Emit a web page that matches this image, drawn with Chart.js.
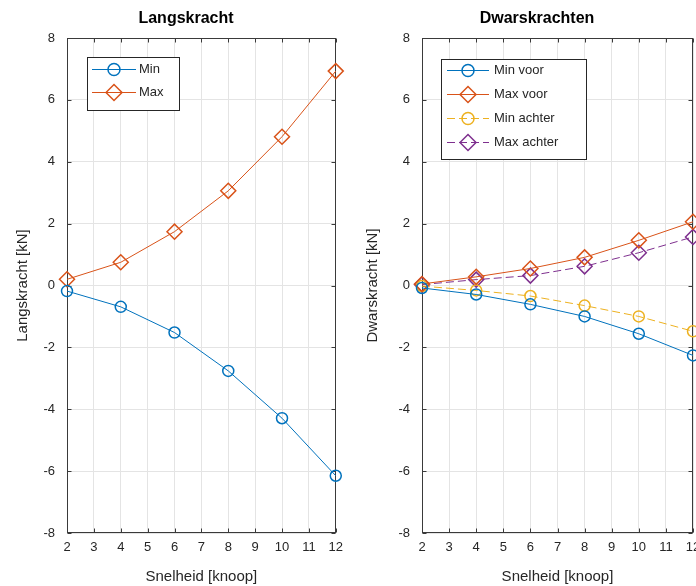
<!DOCTYPE html>
<html>
<head>
<meta charset="utf-8">
<script src="https://cdn.jsdelivr.net/npm/chart.js@4.4.1/dist/chart.umd.min.js"></script>
<style>
  html, body { margin: 0; padding: 0; background: #fff; overflow: hidden; width: 696px; height: 586px; position: relative; }
  canvas { position: absolute; top: 0; }
  #links { left: 0; }
  #rechts { left: 350px; }
</style>
</head>
<body>
<canvas id="links" width="350" height="586"></canvas>
<canvas id="rechts" width="360" height="586"></canvas>
<script>
// snelheden (knoop)
const snelheid = [2, 4, 6, 8, 10, 12];

// langskracht [kN]
const langMin = [-0.18, -0.69, -1.52, -2.76, -4.29, -6.15];
const langMax = [0.20, 0.75, 1.74, 3.06, 4.81, 6.93];

// dwarskrachten [kN]
const dwarsMinVoor = [-0.08, -0.29, -0.61, -1.00, -1.56, -2.26];
const dwarsMaxVoor = [0.05, 0.28, 0.55, 0.91, 1.46, 2.06];
const dwarsMinAchter = [-0.02, -0.16, -0.34, -0.65, -1.00, -1.48];
const dwarsMaxAchter = [0.03, 0.19, 0.32, 0.62, 1.06, 1.57];

const xTicks = [2, 3, 4, 5, 6, 7, 8, 9, 10, 11, 12];
const yTicks = [-8, -6, -4, -2, 0, 2, 4, 6, 8];

const blauw = '#0072BD';
const oranje = '#D95319';
const geel = '#EDB120';
const paars = '#7E2F8E';
const tekst = '#262626';

Chart.defaults.font.family = "'Liberation Sans', Arial, sans-serif";
Chart.defaults.color = tekst;

function punten(ys) {
  return snelheid.map((x, i) => ({ x: x, y: ys[i] }));
}

function reeks(label, ys, kleur, vorm, dash) {
  const r = vorm === 'circle' ? 5.5 : 7.5;
  return {
    label: label,
    data: punten(ys),
    borderColor: kleur,
    backgroundColor: 'rgba(0,0,0,0)',
    borderWidth: 1,
    borderDash: dash || [],
    pointStyle: vorm,
    pointRadius: r,
    pointHoverRadius: r,
    pointBorderWidth: 1.5,
    pointBorderColor: kleur,
    pointBackgroundColor: 'rgba(0,0,0,0)',
    tension: 0,
    clip: false
  };
}

// titel op vaste plek, zoals matlab
const titelPlugin = {
  id: 'titel',
  afterDraw(chart, args, opts) {
    const ctx = chart.ctx;
    ctx.save();
    ctx.font = "bold 16px 'Liberation Sans', Arial, sans-serif";
    ctx.fillStyle = '#000';
    ctx.textAlign = 'center';
    ctx.textBaseline = 'middle';
    ctx.fillText(opts.text, opts.x, opts.y);
    ctx.restore();
  }
};

// kader om de assen met ticks naar binnen
const kaderPlugin = {
  id: 'kader',
  beforeDatasetsDraw(chart) {
    const { ctx, chartArea: a, scales } = chart;
    const l = Math.round(a.left) + 0.5, r = Math.round(a.right) - 0.5;
    const t = Math.round(a.top) + 0.5, b = Math.round(a.bottom) - 0.5;
    ctx.save();
    ctx.strokeStyle = '#3a3a3a';
    ctx.lineWidth = 1;
    ctx.strokeRect(l, t, r - l, b - t);
    ctx.beginPath();
    xTicks.forEach(v => {
      const px = Math.round(scales.x.getPixelForValue(v)) + 0.5;
      ctx.moveTo(px, b); ctx.lineTo(px, b - 4);
      ctx.moveTo(px, t); ctx.lineTo(px, t + 4);
    });
    yTicks.forEach(v => {
      const py = Math.round(scales.y.getPixelForValue(v)) + 0.5;
      ctx.moveTo(l, py); ctx.lineTo(l + 4, py);
      ctx.moveTo(r, py); ctx.lineTo(r - 4, py);
    });
    ctx.stroke();
    ctx.restore();
  }
};

// legenda binnen de assen
const legendaPlugin = {
  id: 'legenda',
  afterDraw(chart, args, o) {
    const ctx = chart.ctx;
    const sets = chart.data.datasets;
    ctx.save();
    ctx.fillStyle = '#fff';
    ctx.fillRect(o.x, o.y, o.w, o.h);
    ctx.strokeStyle = '#262626';
    ctx.lineWidth = 1;
    ctx.strokeRect(o.x + 0.5, o.y + 0.5, o.w, o.h);
    sets.forEach((ds, i) => {
      const y = o.y + o.first + i * o.row;
      ctx.strokeStyle = ds.borderColor;
      ctx.lineWidth = 1;
      ctx.setLineDash(ds.borderDash);
      ctx.beginPath();
      ctx.moveTo(o.x + o.lineStart, y + 0.5);
      ctx.lineTo(o.x + o.lineStart + o.lineLen, y + 0.5);
      ctx.stroke();
      ctx.setLineDash([]);
      ctx.fillStyle = 'rgba(0,0,0,0)';
      ctx.lineWidth = ds.pointBorderWidth;
      Chart.helpers.drawPoint(ctx, {
        pointStyle: ds.pointStyle,
        radius: ds.pointStyle === 'circle' ? 6 : 8,
        borderWidth: ds.pointBorderWidth,
        rotation: 0
      }, o.x + o.lineStart + o.lineLen / 2, y + 0.5);
      ctx.fillStyle = tekst;
      ctx.font = "13px 'Liberation Sans', Arial, sans-serif";
      ctx.textAlign = 'left';
      ctx.textBaseline = 'middle';
      ctx.fillText(ds.label, o.x + o.textStart, y);
    });
    ctx.restore();
  }
};

function opties(yTitel, titel, yBreedte, rechtsPad, yTitelPad, legenda) {
  return {
    responsive: false,
    animation: false,
    events: [],
    layout: { padding: { left: 0, right: rechtsPad, top: 38, bottom: 0 } },
    plugins: {
      legend: { display: false },
      tooltip: { enabled: false },
      titel: titel,
      legenda: legenda
    },
    scales: {
      x: {
        type: 'linear',
        min: 2,
        max: 12,
        afterBuildTicks: s => { s.ticks = xTicks.map(v => ({ value: v })); },
        afterFit: s => { s.height = 53; },
        ticks: { font: { size: 13 }, padding: 7, color: tekst, maxRotation: 0 },
        grid: { color: '#e4e4e4', drawTicks: false },
        border: { display: false },
        title: { display: true, text: 'Snelheid [knoop]', font: { size: 15 }, color: tekst, padding: { top: 0, bottom: 0 } }
      },
      y: {
        type: 'linear',
        min: -8,
        max: 8,
        afterBuildTicks: s => { s.ticks = yTicks.map(v => ({ value: v })); },
        afterFit: s => { s.width = yBreedte; },
        ticks: { font: { size: 13 }, padding: 12, color: tekst },
        grid: { color: '#e4e4e4', drawTicks: false },
        border: { display: false },
        title: { display: true, text: yTitel, font: { size: 15 }, color: tekst, padding: { top: yTitelPad, bottom: 0 } }
      }
    }
  };
}

new Chart(document.getElementById('links'), {
  type: 'line',
  data: {
    datasets: [
      reeks('Min', langMin, blauw, 'circle'),
      reeks('Max', langMax, oranje, 'rectRot')
    ]
  },
  options: opties('Langskracht [kN]', { text: 'Langskracht', x: 186, y: 19 }, 67, 12, 14,
    { x: 87, y: 57, w: 92, h: 53, first: 12, row: 23, lineStart: 5, lineLen: 44, textStart: 52 }),
  plugins: [kaderPlugin, legendaPlugin, titelPlugin]
});

new Chart(document.getElementById('rechts'), {
  type: 'line',
  data: {
    datasets: [
      reeks('Min voor', dwarsMinVoor, blauw, 'circle'),
      reeks('Max voor', dwarsMaxVoor, oranje, 'rectRot'),
      reeks('Min achter', dwarsMinAchter, geel, 'circle', [8, 4]),
      reeks('Max achter', dwarsMaxAchter, paars, 'rectRot', [8, 4])
    ]
  },
  options: opties('Dwarskracht [kN]', { text: 'Dwarskrachten', x: 187, y: 19 }, 72, 17, 14,
    { x: 91, y: 59, w: 145, h: 100, first: 11, row: 24, lineStart: 6, lineLen: 42, textStart: 53 }),
  plugins: [kaderPlugin, legendaPlugin, titelPlugin]
});
</script>
</body>
</html>
